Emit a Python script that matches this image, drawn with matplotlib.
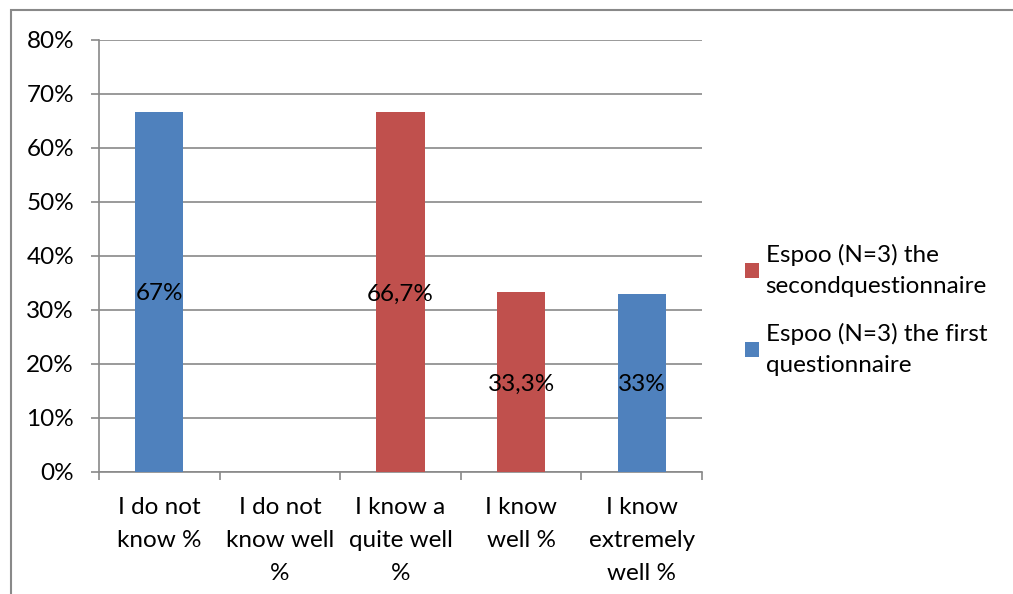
import matplotlib
matplotlib.use("Agg")
import matplotlib.pyplot as plt
from matplotlib.patches import Rectangle
from matplotlib.ticker import FuncFormatter, MultipleLocator
import numpy as np

categories = ["I do not\nknow %", "I do not\nknow well\n%", "I know a\nquite well\n%",
              "I know\nwell %", "I know\nextremely\nwell %"]
first_q = [0.667, 0.0, 0.0, 0.0, 0.33]
second_q = [0.0, 0.0, 0.667, 0.333, 0.0]
first_labels = ["67%", "", "", "", "33%"]
second_labels = ["", "", "66,7%", "33,3%", ""]
series_names = ["Espoo (N=3) the first\nquestionnaire", "Espoo (N=3) the\nsecondquestionnaire"]

BLUE = "#4F81BD"
RED = "#C0504D"
GRAY = "#898989"

plt.rcParams['font.family'] = ['Lato', 'DejaVu Sans']
FS = 17.5

fig = plt.figure(figsize=(10.13, 5.94), dpi=100)
W, H = 1013, 594
# outer chart border (only top and left visible)
fig.patches.append(Rectangle((11 / W, -0.1), 1.2, (H - 10) / H + 0.1, transform=fig.transFigure,
                             fill=False, edgecolor=GRAY, linewidth=1.5, zorder=0))

ax = fig.add_axes([99 / W, (H - 472) / H, (702 - 99) / W, (472 - 40) / H])
x = np.arange(len(categories))
b1 = ax.bar(x, first_q, width=0.4, color=BLUE, zorder=3, label=series_names[0])
b2 = ax.bar(x, second_q, width=0.4, bottom=first_q, color=RED, zorder=3, label=series_names[1])

for i, (v, lab) in enumerate(zip(first_q, first_labels)):
    if lab:
        ax.text(i, v / 2, lab, ha="center", va="center_baseline", fontsize=FS, zorder=4)
for i, (v, lab) in enumerate(zip(second_q, second_labels)):
    if lab:
        ax.text(i, first_q[i] + v / 2, lab, ha="center", va="center_baseline", fontsize=FS, zorder=4)

ax.set_xlim(-0.5, len(categories) - 0.5)
ax.set_ylim(0, 0.8)
ax.yaxis.set_major_locator(MultipleLocator(0.1))
ax.yaxis.set_major_formatter(FuncFormatter(lambda v, p: f"{v * 100:.0f}%"))
ax.grid(axis="y", color=GRAY, linewidth=1.2, zorder=0)
ax.set_axisbelow(True)

ax.set_xticks(np.arange(len(categories) + 1) - 0.5, minor=False)
ax.set_xticklabels([])
ax.set_xticks(x, minor=True)
ax.set_xticklabels(categories, minor=True, fontsize=FS, linespacing=1.72, va="top")
ax.tick_params(axis="x", which="minor", length=0, pad=18)
ax.tick_params(axis="x", which="major", length=6, color=GRAY, width=1.2, direction="out")
ax.tick_params(axis="y", length=6, color=GRAY, width=1.2, direction="out", labelsize=FS, pad=12)

for s in ["top", "right"]:
    ax.spines[s].set_visible(False)
for s in ["left", "bottom"]:
    ax.spines[s].set_color(GRAY)
    ax.spines[s].set_linewidth(1.2)

handles = [b2, b1]
labels = [series_names[1], series_names[0]]
leg = fig.legend(handles, labels, loc="center left", bbox_to_anchor=(723 / W, (H - 310) / H),
                 frameon=False, fontsize=FS, handlelength=0.6, handleheight=0.6,
                 handletextpad=0.25, labelspacing=1.05)
for t in leg.get_texts():
    t.set_linespacing(1.6)

fig.savefig("out.png", dpi=100)
